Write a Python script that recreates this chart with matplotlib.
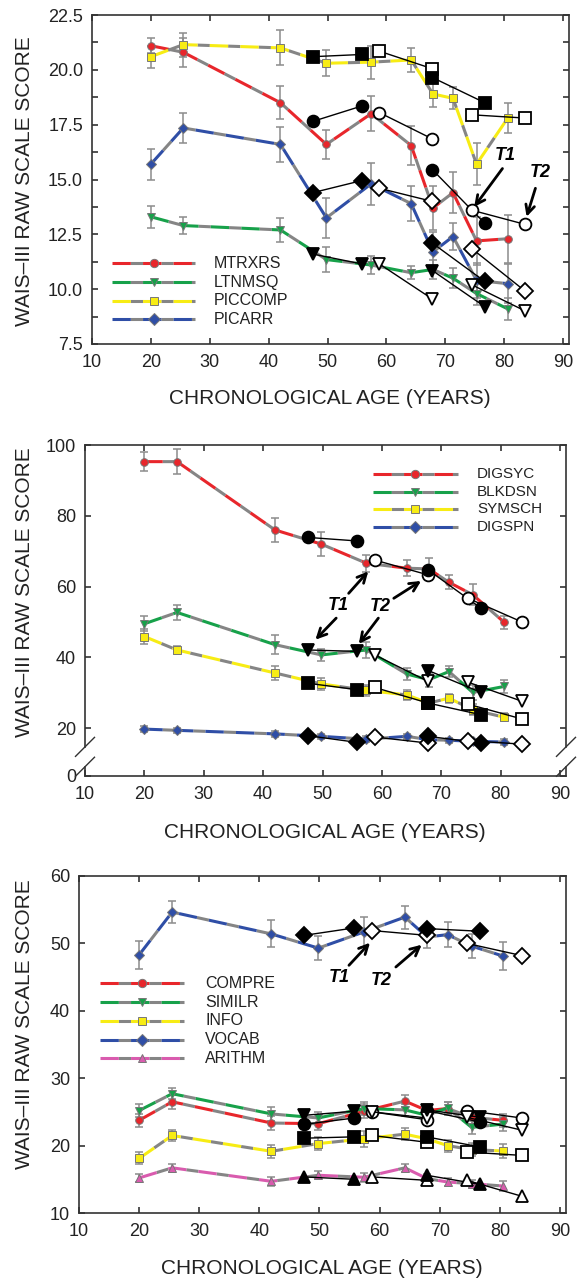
import numpy as np
import matplotlib.pyplot as plt
from matplotlib.lines import Line2D

plt.rcParams['font.family'] = ['Liberation Sans', 'DejaVu Sans']

# cross-sectional age groups (years)
ages = [20, 25.5, 42, 49.8, 57.4, 64.2, 67.9, 71.3, 75.3, 80.6]
# longitudinal pairs (T1 -> T2); filled = first cohort, open = second
long_ages = [[47.5, 55.8], [58.8, 67.8], [67.8, 76.7], [74.5, 83.6]]
long_filled = [True, False, True, False]

# ---- panel 1 ----
mtrxrs = [21.1, 20.8, 18.5, 16.6, 18.0, 16.55, 13.7, 14.4, 12.2, 12.3]
mtrxrs_err = [0.35, 0.65, 0.75, 0.65, 0.8, 0.9, 1.0, 0.95, 1.1, 1.1]
ltnmsq = [13.3, 12.9, 12.7, 11.35, 11.1, 10.75, 10.9, 10.5, 9.8, 9.1]
ltnmsq_err = [0.5, 0.4, 0.55, 0.55, 0.4, 0.3, 0.45, 0.45, 0.5, 0.5]
piccomp = [20.6, 21.15, 21.0, 20.3, 20.35, 20.45, 18.9, 18.7, 15.7, 17.8]
piccomp_err = [0.5, 0.55, 0.8, 0.6, 0.75, 0.55, 0.6, 0.5, 0.95, 0.7]
picarr = [15.7, 17.35, 16.6, 13.25, 14.8, 13.9, 11.7, 12.4, 10.4, 10.25]
picarr_err = [0.7, 0.7, 0.8, 0.9, 0.95, 0.8, 0.9, 0.6, 0.8, 0.9]

mtrxrs_long = [[17.65, 18.35], [18.05, 16.85], [15.45, 13.0], [13.6, 12.95]]
ltnmsq_long = [[11.6, 11.15], [11.15, 9.55], [10.85, 9.2], [10.2, 9.0]]
piccomp_long = [[20.6, 20.7], [20.85, 20.05], [19.65, 18.5], [17.95, 17.8]]
picarr_long = [[14.4, 14.95], [14.6, 14.0], [12.1, 10.35], [11.85, 9.9]]

# ---- panel 2 ----
digsyc = [95.3, 95.3, 76.0, 72.0, 66.6, 65.2, 65.0, 61.2, 57.7, 49.9]
digsyc_err = [2.6, 3.6, 3.4, 3.3, 2.4, 2.2, 3.0, 2.0, 3.0, 1.8]
blkdsn = [49.5, 52.7, 43.6, 40.7, 42.1, 35.3, 33.7, 36.0, 30.1, 31.8]
blkdsn_err = [2.1, 2.1, 2.6, 1.7, 2.3, 1.7, 2.0, 1.6, 2.0, 1.9]
symsch = [45.9, 42.1, 35.6, 32.5, 30.7, 29.4, 27.1, 28.5, 25.2, 23.1]
symsch_err = [2.0, 1.2, 2.0, 1.6, 1.5, 1.3, 1.5, 1.3, 1.5, 1.2]
digspn = [19.75, 19.4, 18.4, 17.7, 16.9, 17.7, 16.75, 16.6, 16.3, 16.1]
digspn_err = [0.8, 0.7, 0.8, 0.8, 0.8, 0.8, 0.8, 0.7, 0.7, 0.8]

digsyc_long = [[73.9, 72.9], [67.5, 63.3], [64.7, 53.9], [56.7, 50.0]]
blkdsn_long = [[42.1, 41.7], [40.7, 33.2], [36.3, 30.1], [33.0, 27.6]]
symsch_long = [[32.7, 30.9], [31.5, 27.1], [27.1, 23.8], [26.8, 22.6]]
digspn_long = [[17.9, 16.0], [17.5, 15.8], [17.7, 15.8], [16.5, 15.5]]

# ---- panel 3 ----
compre = [23.75, 26.5, 23.35, 23.25, 25.1, 26.6, 25.2, 25.5, 24.2, 23.75]
compre_err = [1.0, 1.0, 1.0, 0.9, 1.0, 0.9, 1.0, 0.9, 1.0, 1.0]
similr = [25.2, 27.7, 24.7, 24.1, 25.5, 25.3, 24.5, 25.6, 22.7, 23.2]
similr_err = [0.9, 0.8, 1.0, 0.9, 1.0, 0.9, 1.0, 0.9, 1.0, 1.0]
info = [18.1, 21.5, 19.15, 20.3, 21.0, 21.7, 21.0, 20.0, 19.4, 19.2]
info_err = [0.9, 0.8, 1.0, 1.0, 1.2, 0.9, 0.9, 0.9, 1.0, 1.1]
vocab = [48.3, 54.65, 51.4, 49.3, 51.7, 53.9, 50.95, 51.3, 49.6, 48.1]
vocab_err = [2.1, 1.65, 2.0, 1.8, 2.2, 1.7, 1.6, 1.9, 1.8, 2.1]
arithm = [15.2, 16.7, 14.7, 15.6, 15.3, 16.7, 15.1, 14.6, 14.35, 14.0]
arithm_err = [0.6, 0.6, 0.7, 0.6, 0.7, 0.6, 0.7, 0.6, 0.6, 0.7]

compre_long = [[23.15, 24.1], [25.0, 23.85], [25.2, 23.5], [25.2, 24.1]]
similr_long = [[24.5, 25.1], [25.0, 24.1], [25.3, 24.2], [24.2, 22.3]]
info_long = [[21.1, 21.3], [21.5, 20.5], [21.3, 19.8], [19.05, 18.55]]
vocab_long = [[51.2, 52.3], [51.9, 51.2], [52.2, 51.8], [50.0, 48.2]]
arithm_long = [[15.35, 15.0], [15.35, 14.85], [15.6, 14.25], [14.85, 12.5]]

RED = '#e8262b'
GREEN = '#17a14a'
YELLOW = '#f7ec14'
BLUE = '#2f4ea6'
PINK = '#d95bae'
GRAY = '#858585'
ERRGRAY = '#8c8c8c'
DASH = (0, (6, 4))

fig = plt.figure(figsize=(5.81, 12.79), dpi=100)
W, H = 581, 1279


def make_axes(left, right, top, bottom):
    return fig.add_axes([left / W, 1 - bottom / H, (right - left) / W, (bottom - top) / H])


def style_axes(ax):
    ax.set_xlim(10, 91)
    ax.set_xticks(range(10, 91, 10))
    ax.tick_params(direction='in', top=True, right=True, length=4.5, width=1.1,
                   labelsize=13, colors='#222')
    ax.tick_params(axis='x', pad=7.5)
    ax.tick_params(axis='y', pad=6.5)
    for s in ax.spines.values():
        s.set_linewidth(1.2)
        s.set_color('#333')


def draw_series(ax, vals, err, color, marker):
    ax.errorbar(ages, vals, yerr=err, fmt='none', ecolor=ERRGRAY, elinewidth=1.1,
                capsize=3, capthick=1.1, zorder=2)
    ax.plot(ages, vals, color=color, lw=2.2, linestyle=DASH, gapcolor=GRAY,
            marker=marker, ms=5.5, mfc=color, mec='#777', mew=0.7, zorder=3)


def draw_long(ax, pairs, marker):
    for xs, ys, filled in zip(long_ages, pairs, long_filled):
        ax.plot(xs, ys, color='black', lw=1.0, marker=marker, ms=8.5,
                mfc='black' if filled else 'white', mec='black', mew=1.3, zorder=5)


def draw_legend(ax, names, colors, markers, x0, x1, xt, y0, dy, fs):
    for i, (name, c, m) in enumerate(zip(names, colors, markers)):
        y = y0 - i * dy
        ax.add_line(Line2D([x0, x1], [y, y], transform=ax.transAxes, color=c, lw=2.2,
                           linestyle=DASH, gapcolor=GRAY, zorder=6))
        ax.add_line(Line2D([(x0 + x1) / 2], [y], transform=ax.transAxes, marker=m, ms=6,
                           mfc=c, mec='#777', mew=0.7, zorder=7))
        ax.text(xt, y, name, transform=ax.transAxes, va='center', ha='left',
                fontsize=fs, color='#222')


def tlabel(ax, x, y, s):
    ax.text(x, y, s, fontsize=13, fontweight='bold', fontstyle='italic',
            ha='center', va='center', zorder=8)


def arrow(ax, tail, head):
    ax.annotate('', xy=head, xytext=tail,
                arrowprops=dict(arrowstyle='->', lw=2.0, color='black',
                                mutation_scale=16, shrinkA=0, shrinkB=0), zorder=8)


ylabel = 'WAIS\u2013III RAW SCALE SCORE'
xlabel = 'CHRONOLOGICAL AGE (YEARS)'

# ================= panel 1 =================
ax1 = make_axes(92, 569, 15, 344)
style_axes(ax1)
ax1.set_ylim(7.5, 22.5)
yt = np.arange(7.5, 22.51, 1.25)
ax1.set_yticks(yt)
ax1.set_yticklabels(['%.1f' % v if abs(v / 2.5 - round(v / 2.5)) < 1e-6 else '' for v in yt])
draw_series(ax1, mtrxrs, mtrxrs_err, RED, 'o')
draw_series(ax1, ltnmsq, ltnmsq_err, GREEN, 'v')
draw_series(ax1, piccomp, piccomp_err, YELLOW, 's')
draw_series(ax1, picarr, picarr_err, BLUE, 'D')
draw_long(ax1, mtrxrs_long, 'o')
draw_long(ax1, ltnmsq_long, 'v')
draw_long(ax1, piccomp_long, 's')
draw_long(ax1, picarr_long, 'D')
draw_legend(ax1, ['MTRXRS', 'LTNMSQ', 'PICCOMP', 'PICARR'], [RED, GREEN, YELLOW, BLUE],
            ['o', 'v', 's', 'D'], 0.042, 0.216, 0.256, 0.245, 0.0568, 11.5)
tlabel(ax1, 80.2, 16.1, 'T1')
arrow(ax1, (79.7, 15.5), (74.9, 13.75))
tlabel(ax1, 86.1, 15.3, 'T2')
arrow(ax1, (85.3, 14.6), (83.8, 13.3))
fig.text(330 / W, 1 - 398 / H, xlabel, ha='center', va='center', fontsize=15, color='#222')
fig.text(25 / W, 1 - 181 / H, ylabel, ha='center', va='center', rotation=90, fontsize=15, color='#222')

# ================= panel 2 =================
ax2 = make_axes(85, 566, 445, 776)
style_axes(ax2)
ax2.set_ylim(6.5, 100)
ax2.set_yticks([6.5, 20, 40, 60, 80, 100])
ax2.set_yticklabels(['0', '20', '40', '60', '80', '100'])
draw_series(ax2, digsyc, digsyc_err, RED, 'o')
draw_series(ax2, blkdsn, blkdsn_err, GREEN, 'v')
draw_series(ax2, symsch, symsch_err, YELLOW, 's')
draw_series(ax2, digspn, digspn_err, BLUE, 'D')
draw_long(ax2, digsyc_long, 'o')
draw_long(ax2, blkdsn_long, 'v')
draw_long(ax2, symsch_long, 's')
draw_long(ax2, digspn_long, 'D')
draw_legend(ax2, ['DIGSYC', 'BLKDSN', 'SYMSCH', 'DIGSPN'], [RED, GREEN, YELLOW, BLUE],
            ['o', 'v', 's', 'D'], 0.599, 0.775, 0.815, 0.9115, 0.0529, 11)
tlabel(ax2, 52.7, 54.8, 'T1')
arrow(ax2, (54.4, 58.1), (57.7, 64.3))
arrow(ax2, (52.3, 51.1), (48.8, 45.0))
tlabel(ax2, 59.7, 54.4, 'T2')
arrow(ax2, (62.0, 56.7), (66.6, 61.6))
arrow(ax2, (59.4, 51.1), (56.1, 43.8))
# axis break on left and right spines
ax2.spines['left'].set_visible(False)
ax2.spines['right'].set_visible(False)
lo, hi = 0.028, 0.088
ddx, ddy = 9.5 / 481, 9.5 / 331
for xs in (0, 1):
    ax2.add_line(Line2D([xs, xs], [0, lo], transform=ax2.transAxes, color='#333', lw=1.2, clip_on=False))
    ax2.add_line(Line2D([xs, xs], [hi, 1], transform=ax2.transAxes, color='#333', lw=1.2, clip_on=False))
    for yc in (lo, hi):
        ax2.add_line(Line2D([xs - ddx, xs + ddx], [yc - ddy, yc + ddy], transform=ax2.transAxes,
                            color='#333', lw=1.0, clip_on=False))
fig.text(325 / W, 1 - 833 / H, xlabel, ha='center', va='center', fontsize=15, color='#222')
fig.text(25 / W, 1 - 592 / H, ylabel, ha='center', va='center', rotation=90, fontsize=15, color='#222')

# ================= panel 3 =================
ax3 = make_axes(79, 566, 876, 1213)
style_axes(ax3)
ax3.set_ylim(10, 60)
ax3.set_yticks(range(10, 61, 10))
draw_series(ax3, compre, compre_err, RED, 'o')
draw_series(ax3, similr, similr_err, GREEN, 'v')
draw_series(ax3, info, info_err, YELLOW, 's')
draw_series(ax3, vocab, vocab_err, BLUE, 'D')
draw_series(ax3, arithm, arithm_err, PINK, '^')
draw_long(ax3, compre_long, 'o')
draw_long(ax3, similr_long, 'v')
draw_long(ax3, info_long, 's')
draw_long(ax3, vocab_long, 'D')
draw_long(ax3, arithm_long, '^')
draw_legend(ax3, ['COMPRE', 'SIMILR', 'INFO', 'VOCAB', 'ARITHM'], [RED, GREEN, YELLOW, BLUE, PINK],
            ['o', 'v', 's', 'D', '^'], 0.043, 0.216, 0.259, 0.6816, 0.0556, 11.5)
tlabel(ax3, 53.2, 45.0, 'T1')
arrow(ax3, (54.9, 46.75), (58.4, 50.1))
tlabel(ax3, 60.3, 44.5, 'T2')
arrow(ax3, (62.7, 46.5), (67.0, 49.8))
fig.text(322 / W, 1 - 1268 / H, xlabel, ha='center', va='center', fontsize=15, color='#222')
fig.text(25 / W, 1 - 1024 / H, ylabel, ha='center', va='center', rotation=90, fontsize=15, color='#222')

fig.savefig('out.png', dpi=100)
